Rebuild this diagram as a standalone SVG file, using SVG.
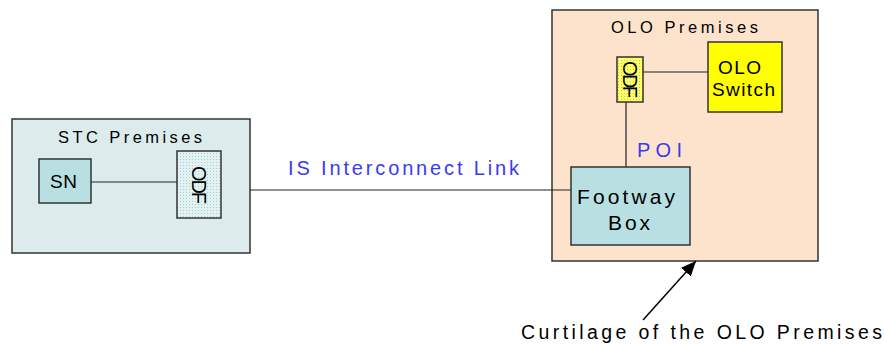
<svg xmlns="http://www.w3.org/2000/svg" width="884" height="344" viewBox="0 0 884 344">
<style>
.box{stroke:#333;stroke-width:1.5}
.t{font-family:"Liberation Sans",Arial,sans-serif;fill:#000}
.b{font-family:"Liberation Sans",Arial,sans-serif;fill:#3a3af0}
.ln{stroke:#222;stroke-width:1.2;fill:none}
</style>
<defs>
<pattern id="dotBlue" width="3" height="3" patternUnits="userSpaceOnUse"><rect width="3" height="3" fill="#e2f2f3"/><rect width="1" height="1" fill="#a9cfd2"/></pattern>
<pattern id="dotYellow" width="3" height="3" patternUnits="userSpaceOnUse"><rect width="3" height="3" fill="#ffff66"/><rect width="1" height="1" fill="#c8c860"/></pattern>
<marker id="arr" viewBox="0 0 10 10" refX="10" refY="5" markerWidth="15" markerHeight="13" markerUnits="userSpaceOnUse" orient="auto" preserveAspectRatio="none"><path d="M0,0 L10,5 L0,10 z" fill="#000"/></marker>
</defs>
<rect width="884" height="344" fill="#fff"/>
<g id="stc-premises">
<rect class="box" x="12" y="119" width="238" height="134" fill="#dcecec"/>
<text class="t" x="58" y="143" font-size="16.5" textLength="144">STC Premises</text>
</g>
<g id="olo-premises">
<rect class="box" x="552" y="10" width="266" height="251" fill="#fde2cc"/>
<text class="t" x="611" y="33" font-size="16.5" textLength="147">OLO Premises</text>
</g>
<g id="connectors">
<line class="ln" x1="91" y1="182" x2="177" y2="182"/>
<line class="ln" x1="250" y1="190" x2="571" y2="190"/>
<line class="ln" x1="643" y1="72" x2="708" y2="72"/>
<line class="ln" x1="626" y1="102" x2="626" y2="167"/>
<line stroke="#000" stroke-width="1.5" x1="643" y1="320" x2="696" y2="261" marker-end="url(#arr)"/>
</g>
<g id="sn">
<rect class="box" x="39" y="159" width="52" height="44" fill="#b8dfe1"/>
<text class="t" x="50" y="188" font-size="19" textLength="27">SN</text>
</g>
<g id="odf-stc">
<rect class="box" x="177" y="151" width="44" height="67" fill="url(#dotBlue)"/>
<text class="t" font-size="20" transform="translate(199,166) rotate(90)" x="0" y="7" textLength="38">ODF</text>
</g>
<g id="odf-olo">
<rect class="box" x="617" y="57" width="26" height="45" fill="url(#dotYellow)"/>
<text class="t" font-size="20" transform="translate(630,61) rotate(90)" x="0" y="7" textLength="37">ODF</text>
</g>
<g id="olo-switch">
<rect class="box" x="708" y="42" width="74" height="70" fill="#ffff00"/>
<text class="t" x="718" y="74" font-size="19" textLength="43">OLO</text>
<text class="t" x="712" y="96" font-size="19" textLength="63">Switch</text>
</g>
<g id="footway-box">
<rect class="box" x="571" y="167" width="119" height="78" fill="#b8dfe1"/>
<text class="t" x="577" y="204" font-size="21" textLength="98">Footway</text>
<text class="t" x="608" y="230" font-size="21" textLength="42">Box</text>
</g>
<g id="labels">
<text class="b" x="288" y="175" font-size="20" textLength="231">IS Interconnect Link</text>
<text class="b" x="637" y="157" font-size="20" textLength="45">POI</text>
<text class="t" x="521" y="339" font-size="19.5" textLength="361">Curtilage of the OLO Premises</text>
</g>
</svg>
